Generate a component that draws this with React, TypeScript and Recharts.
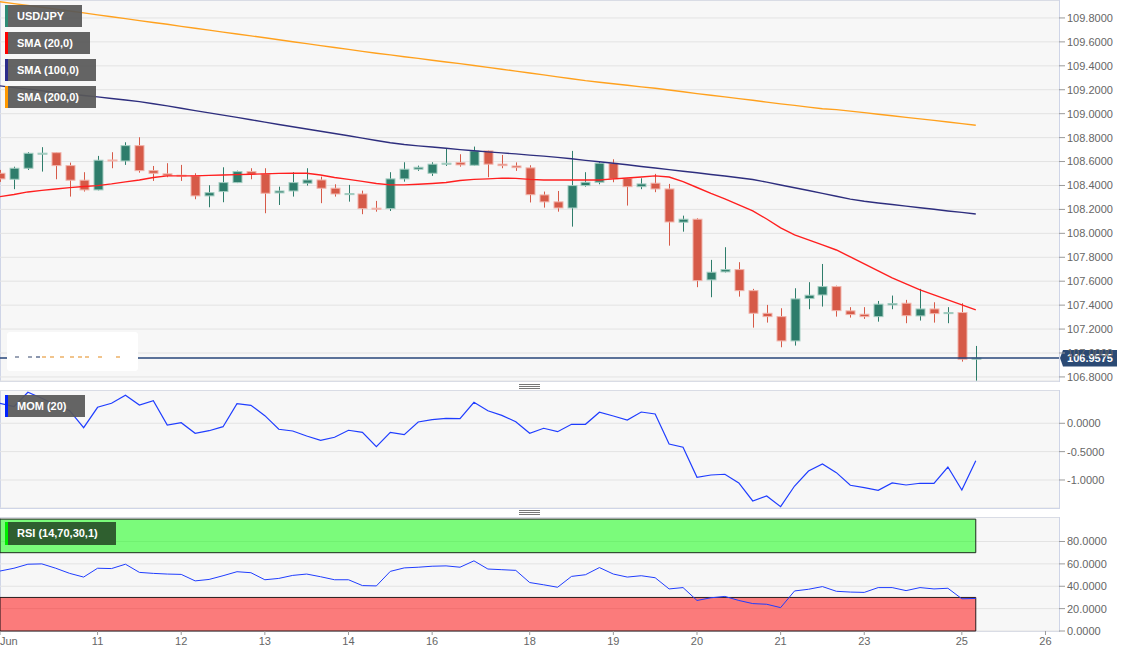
import React from 'react';
import {
  ComposedChart,
  Bar,
  Line,
  XAxis,
  YAxis,
  CartesianGrid,
  ReferenceLine,
  ReferenceArea,
} from 'recharts';

// USD/JPY 4h candles, bar 0 is the first one on the left edge
const OPEN = [
  108.502, 108.452, 108.544, 108.664, 108.674, 108.566, 108.444, 108.363, 108.613, 108.605,
  108.733, 108.524, 108.497, 108.486, 108.48, 108.313, 108.349, 108.424, 108.516, 108.497,
  108.338, 108.354, 108.419, 108.446, 108.377, 108.327, 108.329, 108.21, 108.207, 108.455,
  108.536, 108.502, 108.578, 108.591, 108.569, 108.689, 108.578, 108.563, 108.547, 108.321,
  108.263, 108.212, 108.399, 108.427, 108.586, 108.46, 108.39, 108.419, 108.371, 108.093,
  108.118, 107.611, 107.678, 107.697, 107.521, 107.332, 107.304, 107.101, 107.455, 107.485,
  107.555, 107.352, 107.324, 107.304, 107.402, 107.416, 107.31, 107.368, 107.329, 107.338,
  106.948,
];
const HIGH = [
  108.53, 108.557, 108.678, 108.72, 108.676, 108.591, 108.511, 108.647, 108.678, 108.761,
  108.803, 108.563, 108.586, 108.572, 108.502, 108.402, 108.552, 108.524, 108.544, 108.544,
  108.39, 108.511, 108.544, 108.474, 108.41, 108.405, 108.357, 108.271, 108.511, 108.594,
  108.566, 108.594, 108.711, 108.661, 108.725, 108.693, 108.655, 108.593, 108.569, 108.349,
  108.354, 108.689, 108.511, 108.599, 108.619, 108.463, 108.46, 108.497, 108.413, 108.148,
  108.126, 107.778, 107.884, 107.759, 107.536, 107.402, 107.374, 107.541, 107.592, 107.744,
  107.563, 107.383, 107.383, 107.435, 107.48, 107.444, 107.536, 107.424, 107.383, 107.416,
  107.059,
];
const LOW = [
  108.43, 108.369, 108.53, 108.516, 108.452, 108.307, 108.349, 108.359, 108.544, 108.572,
  108.507, 108.438, 108.469, 108.438, 108.285, 108.218, 108.26, 108.42, 108.452, 108.168,
  108.237, 108.307, 108.399, 108.252, 108.307, 108.265, 108.16, 108.181, 108.187, 108.432,
  108.522, 108.48, 108.563, 108.557, 108.566, 108.469, 108.544, 108.522, 108.258, 108.215,
  108.181, 108.056, 108.39, 108.41, 108.427, 108.232, 108.369, 108.344, 107.897, 108.014,
  107.55, 107.466, 107.673, 107.471, 107.212, 107.254, 107.048, 107.062, 107.366, 107.388,
  107.304, 107.296, 107.285, 107.262, 107.366, 107.249, 107.271, 107.254, 107.249, 106.928,
  106.769,
];
const CLOSE = [
  108.455, 108.544, 108.669, 108.67, 108.566, 108.444, 108.363, 108.611, 108.605, 108.733,
  108.524, 108.502, 108.482, 108.481, 108.313, 108.34, 108.424, 108.516, 108.494, 108.335,
  108.354, 108.424, 108.446, 108.377, 108.329, 108.332, 108.207, 108.202, 108.455, 108.536,
  108.552, 108.578, 108.586, 108.572, 108.689, 108.578, 108.566, 108.549, 108.323, 108.263,
  108.212, 108.399, 108.427, 108.586, 108.455, 108.39, 108.413, 108.371, 108.095, 108.118,
  107.605, 107.675, 107.697, 107.521, 107.332, 107.304, 107.101, 107.452, 107.483, 107.555,
  107.354, 107.321, 107.304, 107.408, 107.413, 107.312, 107.368, 107.329, 107.338, 106.948,
  106.9575,
];

const SMA20 = [
  108.307, 108.325, 108.346, 108.359, 108.371, 108.382, 108.392, 108.399, 108.413, 108.43,
  108.446, 108.467, 108.48, 108.48, 108.48, 108.484, 108.488, 108.491, 108.494, 108.497,
  108.501, 108.502, 108.502, 108.488, 108.467, 108.451, 108.434, 108.417, 108.405, 108.405,
  108.41, 108.417, 108.425, 108.442, 108.451, 108.455, 108.461, 108.459, 108.451, 108.446,
  108.446, 108.446, 108.446, 108.446, 108.455, 108.463, 108.471, 108.48, 108.471, 108.432,
  108.383, 108.334, 108.288, 108.237, 108.187, 108.12, 108.045, 107.987, 107.945, 107.903,
  107.861, 107.803, 107.744, 107.686, 107.627, 107.577, 107.527, 107.485, 107.444, 107.402,
  107.36,
];
const SMA100 = [
  109.232, 109.218, 109.205, 109.192, 109.178, 109.165, 109.152, 109.14, 109.127, 109.114,
  109.101, 109.083, 109.065, 109.045, 109.026, 109.007, 108.988, 108.969, 108.949, 108.929,
  108.91, 108.891, 108.872, 108.853, 108.834, 108.815, 108.796, 108.776, 108.757, 108.742,
  108.731, 108.721, 108.711, 108.7, 108.69, 108.681, 108.672, 108.664, 108.654, 108.645,
  108.635, 108.623, 108.61, 108.598, 108.586, 108.573, 108.559, 108.546, 108.532, 108.519,
  108.506, 108.492, 108.479, 108.465, 108.45, 108.428, 108.404, 108.381, 108.358, 108.334,
  108.31, 108.286, 108.268, 108.254, 108.241, 108.227, 108.214, 108.201, 108.187, 108.175,
  108.162,
];
const SMA200 = [
  109.936, 109.92, 109.904, 109.889, 109.874, 109.858, 109.842, 109.826, 109.81, 109.794,
  109.778, 109.762, 109.747, 109.73, 109.714, 109.698, 109.682, 109.666, 109.65, 109.634,
  109.618, 109.601, 109.585, 109.569, 109.553, 109.537, 109.521, 109.505, 109.491, 109.476,
  109.462, 109.447, 109.432, 109.418, 109.403, 109.387, 109.371, 109.356, 109.34, 109.324,
  109.308, 109.292, 109.276, 109.263, 109.25, 109.238, 109.224, 109.212, 109.198, 109.183,
  109.168, 109.154, 109.14, 109.126, 109.112, 109.097, 109.082, 109.069, 109.055, 109.041,
  109.034, 109.021, 109.009, 108.995, 108.983, 108.969, 108.957, 108.944, 108.931, 108.917,
  108.903,
];

const MOM20 = [
  0.353, 0.293, 0.547, 0.441, 0.323, 0.222, -0.078, 0.282, 0.353, 0.494,
  0.323, 0.399, -0.03, 0.011, -0.176, -0.131, -0.06, 0.346, 0.317, 0.134,
  -0.106, -0.136, -0.224, -0.3, -0.247, -0.123, -0.159, -0.413, -0.159, -0.201,
  0.023, 0.063, 0.088, 0.081, 0.37, 0.222, 0.14, 0.028, -0.176, -0.088,
  -0.148, -0.018, -0.018, 0.194, 0.129, 0.058, 0.199, 0.164, -0.365, -0.423,
  -0.952, -0.912, -0.899, -1.053, -1.37, -1.282, -1.471, -1.106, -0.841, -0.718,
  -0.871, -1.093, -1.136, -1.182, -1.053, -1.088, -1.058, -1.058, -0.771, -1.176,
  -0.66,
];

const RSI14 = [
  53.6, 56.1, 59.7, 60.0, 56.1, 51.5, 48.2, 56.1, 55.8, 59.7,
  52.4, 51.5, 50.9, 50.6, 44.8, 46.1, 49.4, 53.0, 52.1, 45.8,
  47.0, 49.7, 50.9, 48.5, 45.8, 45.8, 40.6, 40.3, 53.3, 56.4,
  57.0, 57.9, 58.2, 57.0, 62.7, 55.4, 54.8, 54.2, 43.3, 41.3,
  39.1, 48.8, 50.3, 56.7, 50.9, 48.2, 49.4, 47.6, 37.6, 38.8,
  27.3, 29.7, 30.9, 27.3, 24.5, 23.9, 20.9, 35.8, 37.3, 39.7,
  35.5, 34.8, 34.5, 38.8, 38.8, 36.1, 38.8, 37.6, 38.2, 28.8,
  29.1,
];

const DAY_TICKS = [0, 7, 13, 19, 25, 31, 38, 44, 50, 56, 62, 69, 75];
const DAY_LABELS = ['Jun', '11', '12', '13', '14', '16', '18', '19', '20', '21', '23', '25', '26'];

const PRICE_TICKS = [106.8, 107.0, 107.2, 107.4, 107.6, 107.8, 108.0, 108.2, 108.4, 108.6, 108.8, 109.0, 109.2, 109.4, 109.6, 109.8];
const MOM_TICKS = [-1, -0.5, 0];
const RSI_TICKS = [0, 20, 40, 60, 80];

const LAST_PRICE = 106.9575;
const X_MAX = 75.97;

const data = OPEN.map((o, i) => ({
  i,
  open: o,
  high: HIGH[i],
  low: LOW[i],
  close: CLOSE[i],
  sma20: SMA20[i],
  sma100: SMA100[i],
  sma200: SMA200[i],
  mom: MOM20[i],
  rsi: RSI14[i],
}));

const FONT = '"Liberation Sans", Arial, sans-serif';
const UP = '#2e7d6b';
const DOWN = '#d65a48';
const GRID = '#e3e3e3';
const PANEL_BG = '#f7f7f7';
const PANEL_BORDER = '#cfd5e7';
const axisTick = { fill: '#666', fontSize: 11 };
const fmt = (v: number) => v.toFixed(4);

const Candle = (props: any) => {
  const { x, y, width, height, payload } = props;
  if (x == null || !payload) return null;
  const { open, close, high, low } = payload;
  const up = close >= open;
  const color = up ? UP : DOWN;
  const edge = up ? '#a3cdc1' : '#f1b4ab';
  const cx = Math.round(x + width / 2) + 0.5;
  const k = high > low ? height / (high - low) : 0;
  const yo = y + (high - open) * k;
  const yc = y + (high - close) * k;
  const top = Math.min(yo, yc);
  const h = Math.max(Math.abs(yo - yc), 1);
  return (
    <g>
      <line x1={cx} x2={cx} y1={y} y2={y + height} stroke={color} strokeWidth={1} />
      <rect x={cx - 4.5} y={top} width={9} height={h} fill={color} stroke={edge} strokeWidth={1} />
    </g>
  );
};

const PriceTag = (props: any) => {
  const vb = props.viewBox || {};
  const x = (vb.x || 0) + (vb.width || 0);
  const y = vb.y || 0;
  return (
    <g>
      <path
        d={`M${x + 1},${y} L${x + 4},${y - 8} L${x + 58},${y - 8} L${x + 58},${y + 8.5} L${x + 4},${y + 8.5} Z`}
        fill="#2b4a74"
      />
      <text x={x + 31} y={y} dy="0.36em" textAnchor="middle" fill="#fff" fontSize={11} fontWeight="bold">
        {LAST_PRICE.toFixed(4)}
      </text>
    </g>
  );
};

const DayTick = (props: any) => {
  const { x, y, payload } = props;
  const idx = DAY_TICKS.indexOf(payload.value);
  if (idx < 0) return null;
  return (
    <text
      x={idx === 0 ? 0 : x}
      y={y}
      dy="0.71em"
      textAnchor={idx === 0 ? 'start' : 'middle'}
      fill="#666"
      fontSize={11}
    >
      {DAY_LABELS[idx]}
    </text>
  );
};

const Tag = ({ left, top, width, bar, bg, text, h = 22 }: any) => (
  <div
    style={{
      position: 'absolute',
      left,
      top,
      width,
      height: h,
      background: bg,
      borderLeft: `3px solid ${bar}`,
      boxSizing: 'border-box',
      color: '#fff',
      fontWeight: 'bold',
      fontSize: 11,
      lineHeight: `${h}px`,
      paddingLeft: 9,
      whiteSpace: 'nowrap',
    }}
  >
    {text}
  </div>
);

const Panel = ({ top, height }: any) => (
  <div
    style={{
      position: 'absolute',
      left: 0,
      top,
      width: 1060,
      height,
      background: PANEL_BG,
      border: `1px solid ${PANEL_BORDER}`,
      boxSizing: 'border-box',
    }}
  />
);

const Grip = ({ top }: any) => (
  <svg style={{ position: 'absolute', left: 519, top }} width={21} height={6}>
    <line x1={0} x2={21} y1={0.5} y2={0.5} stroke="#777" />
    <line x1={0} x2={21} y1={2.5} y2={2.5} stroke="#777" />
    <line x1={0} x2={21} y1={4.5} y2={4.5} stroke="#777" />
  </svg>
);

const smudgeDashes = [
  { x: 15, c: '#9aa3b5' }, { x: 28, c: '#9aa3b5' }, { x: 36, c: '#8894ad' }, { x: 42, c: '#f1c48c' },
  { x: 50, c: '#f1c48c' }, { x: 60, c: '#f1c48c' }, { x: 70, c: '#f1c48c' }, { x: 78, c: '#f1c48c' },
  { x: 85, c: '#f1c48c' }, { x: 98, c: '#f1c48c' }, { x: 116, c: '#f1c48c' },
];

export default function App() {
  return (
    <div
      style={{
        position: 'absolute',
        left: 0,
        top: 0,
        width: 1130,
        height: 657,
        background: '#fff',
        fontFamily: FONT,
        overflow: 'hidden',
      }}
    >
      <Panel top={0} height={382} />
      <Panel top={390} height={119} />
      <Panel top={517} height={115} />

      <div style={{ position: 'absolute', left: 0, top: 0 }}>
        <ComposedChart width={1130} height={384} data={data} margin={{ top: 0, right: 0, bottom: 3, left: 0 }}>
          <CartesianGrid vertical={false} stroke={GRID} />
          <XAxis type="number" dataKey="i" domain={[0, X_MAX]} hide allowDataOverflow />
          <YAxis
            orientation="right"
            width={71}
            domain={[106.766, 109.95]}
            ticks={PRICE_TICKS}
            interval={0}
            allowDataOverflow
            axisLine={false}
            tickLine={{ stroke: '#9a9a9a' }}
            tickSize={6}
            tick={axisTick}
            tickFormatter={fmt}
          />
          <Bar
            dataKey={(d: any) => [d.low, d.high]}
            barSize={10}
            shape={(p: any) => <Candle {...p} />}
            activeBar={false}
            isAnimationActive={false}
          />
          <Line type="linear" dataKey="sma200" stroke="#ffa11e" strokeWidth={1.4} dot={false} activeDot={false} isAnimationActive={false} />
          <Line type="linear" dataKey="sma100" stroke="#2e2e7e" strokeWidth={1.4} dot={false} activeDot={false} isAnimationActive={false} />
          <Line type="linear" dataKey="sma20" stroke="#ff1f1f" strokeWidth={1.4} dot={false} activeDot={false} isAnimationActive={false} />
          <ReferenceLine y={LAST_PRICE} stroke="#27467a" strokeWidth={1.5} label={<PriceTag />} />
        </ComposedChart>
      </div>

      <div style={{ position: 'absolute', left: 7, top: 332, width: 131, height: 39, background: '#fff', borderRadius: 3 }} />
      {smudgeDashes.map((d, k) => (
        <div key={k} style={{ position: 'absolute', left: d.x, top: 356, width: 4, height: 2, background: d.c }} />
      ))}

      <Tag left={5} top={5} width={77} bar="#2e8b74" bg="rgba(88,88,88,0.93)" text="USD/JPY" />
      <Tag left={5} top={32} width={85} bar="#ff0000" bg="rgba(88,88,88,0.93)" text="SMA (20,0)" />
      <Tag left={5} top={59} width={91} bar="#2b2b8a" bg="rgba(88,88,88,0.93)" text="SMA (100,0)" />
      <Tag left={5} top={86} width={91} bar="#ff9900" bg="rgba(88,88,88,0.93)" text="SMA (200,0)" />

      <Grip top={384} />

      <div style={{ position: 'absolute', left: 0, top: 390 }}>
        <ComposedChart width={1130} height={118} data={data} margin={{ top: 0, right: 0, bottom: 0, left: 0 }}>
          <CartesianGrid vertical={false} stroke={GRID} />
          <XAxis type="number" dataKey="i" domain={[0, X_MAX]} hide allowDataOverflow />
          <YAxis
            orientation="right"
            width={71}
            domain={[-1.494, 0.587]}
            ticks={MOM_TICKS}
            interval={0}
            allowDataOverflow
            axisLine={false}
            tickLine={{ stroke: '#9a9a9a' }}
            tickSize={6}
            tick={axisTick}
            tickFormatter={fmt}
          />
          <Line type="linear" dataKey="mom" stroke="#1f3dff" strokeWidth={1.2} dot={false} activeDot={false} isAnimationActive={false} />
        </ComposedChart>
      </div>

      <Tag left={5} top={395} width={80} bar="#0022ff" bg="rgba(88,88,88,0.93)" text="MOM (20)" />

      <Grip top={510} />

      <div style={{ position: 'absolute', left: 0, top: 517 }}>
        <ComposedChart width={1130} height={140} data={data} margin={{ top: 0, right: 0, bottom: 0, left: 0 }}>
          <CartesianGrid vertical={false} stroke={GRID} />
          <XAxis
            type="number"
            dataKey="i"
            domain={[0, X_MAX]}
            ticks={DAY_TICKS}
            interval={0}
            allowDataOverflow
            height={26}
            axisLine={false}
            tickLine={{ stroke: '#9a9a9a' }}
            tickSize={4}
            tick={<DayTick />}
          />
          <YAxis
            orientation="right"
            width={71}
            domain={[0, 101.9]}
            ticks={RSI_TICKS}
            interval={0}
            allowDataOverflow
            axisLine={false}
            tickLine={{ stroke: '#9a9a9a' }}
            tickSize={6}
            tick={axisTick}
            tickFormatter={fmt}
          />
          <ReferenceArea x1={0} x2={70} y1={70} y2={100} fill="#00ff00" fillOpacity={0.5} stroke="#1c2a1c" strokeWidth={1} />
          <ReferenceArea x1={0} x2={70} y1={0} y2={30} fill="#ff0000" fillOpacity={0.5} stroke="#2a1c1c" strokeWidth={1} />
          <Line type="linear" dataKey="rsi" stroke="#1f3dff" strokeWidth={1} dot={false} activeDot={false} isAnimationActive={false} />
        </ComposedChart>
      </div>

      <Tag left={5} top={522} width={111} h={23} bar="#00ee00" bg="#2f5f2f" text="RSI (14,70,30,1)" />
    </div>
  );
}
